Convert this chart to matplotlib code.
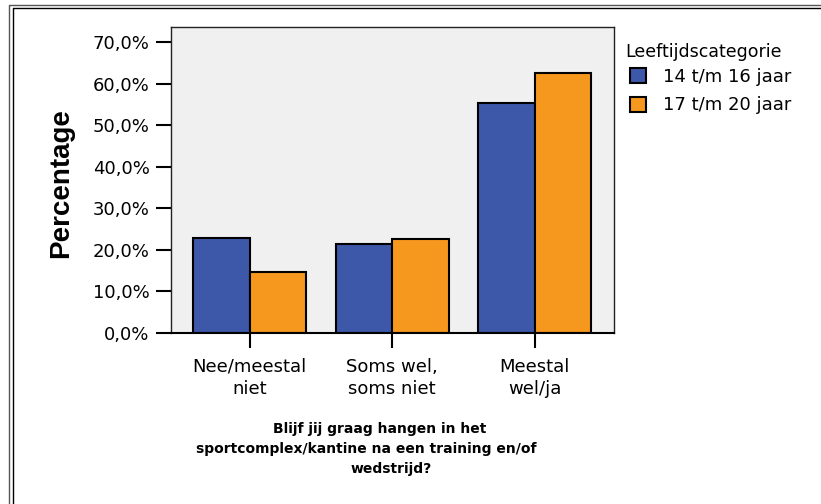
import numpy as np
import matplotlib
matplotlib.use("Agg")
import matplotlib.pyplot as plt
from matplotlib.lines import Line2D

categories = ["Nee/meestal\nniet", "Soms wel,\nsoms niet", "Meestal\nwel/ja"]
groups = ["14 t/m 16 jaar", "17 t/m 20 jaar"]
pct_14_16 = [22.9, 21.4, 55.4]
pct_17_20 = [14.6, 22.7, 62.7]
yticks = [0, 10, 20, 30, 40, 50, 60, 70]
xlabel_lines = ["Blijf jij graag hangen in het",
                "sportcomplex/kantine na een training en/of",
                "wedstrijd?"]

W, H = 821, 504
fig = plt.figure(figsize=(W / 100, H / 100), dpi=100)
ax = fig.add_axes([170.7 / W, 1 - 332.7 / H, (613.8 - 170.7) / W, (332.7 - 27) / H])
ax.set_facecolor("#f0f0f0")

x = np.arange(len(categories))
w = 0.397
b1 = ax.bar(x - w / 2, pct_14_16, w, color="#3d58a9", edgecolor="black", lw=1.5, label=groups[0])
b2 = ax.bar(x + w / 2, pct_17_20, w, color="#f7981e", edgecolor="black", lw=1.5, label=groups[1])

ax.set_xlim(-0.556, 2.556)
ax.set_ylim(0, 73.7)
ax.set_yticks(yticks)
ax.set_yticklabels([f"{v:.1f}%".replace(".", ",") for v in yticks])
ax.set_xticks(x)
ax.set_xticklabels(categories, linespacing=1.3)
ax.tick_params(axis="both", length=11, width=1.5, direction="out", labelsize=13, colors="black")
ax.tick_params(axis="y", pad=4.3)
ax.tick_params(axis="x", pad=7)
for s in ax.spines.values():
    s.set_color("#222222")
    s.set_linewidth(1)
ax.spines["bottom"].set_linewidth(1.5)
ax.spines["bottom"].set_color("black")

# y label
fig.text(61 / W, 1 - 183 / H, "Percentage", rotation=90, ha="center", va="center",
         fontsize=20, fontweight="bold", family="Liberation Sans")

# x label, three lines (not exactly centred in the original)
centers = [380, 366, 391]
baselines = [433, 452.5, 472.5]
for txt, cx, by in zip(xlabel_lines, centers, baselines):
    fig.text(cx / W, 1 - by / H, txt, ha="center", va="baseline", fontsize=10, fontweight="bold")

# legend
fig.text(625 / W, 1 - 52 / H, "Leeftijdscategorie", ha="left", va="center", fontsize=12.5)
fig.legend(handles=[b1, b2], labels=groups, loc="upper left",
           bbox_to_anchor=(630 / W, 1 - 67.5 / H), frameon=False, fontsize=13,
           borderpad=0, borderaxespad=0, handlelength=0.9, handleheight=0.9,
           handletextpad=0.9, labelspacing=0.6)

# double frame round the chart
fig.add_artist(Line2D([9 / W, 9 / W, 1], [0, 1 - 4.5 / H, 1 - 4.5 / H],
                      transform=fig.transFigure, color="#555555", lw=1))
fig.add_artist(Line2D([12.5 / W, 12.5 / W, 1], [0, 1 - 8 / H, 1 - 8 / H],
                      transform=fig.transFigure, color="black", lw=1))

fig.savefig("out.png", dpi=100)
